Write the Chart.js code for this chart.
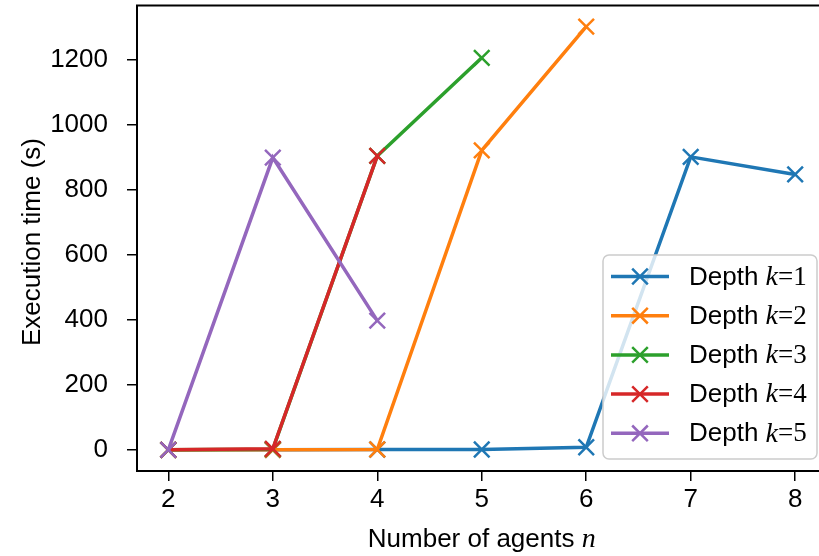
<!DOCTYPE html>
<html>
<head>
<meta charset="utf-8">
<script src="https://cdn.jsdelivr.net/npm/chart.js@4/dist/chart.umd.min.js"></script>
<style>
  html, body { margin: 0; padding: 0; background: #fff; overflow: hidden; }
  #wrap { width: 840px; height: 564px; margin-top: -8px; }
</style>
</head>
<body>
<div id="wrap"><canvas id="grafico" width="840" height="564"></canvas></div>
<script>
// dados
const nAgentes = [2, 3, 4, 5, 6, 7, 8];
const depth1 = [0, 0, 1, 1, 8, 902, 848];
const depth2 = [0, 0, 1, 922, 1303, null, null];
const depth3 = [0, 2, 905, 1207, null, null, null];
const depth4 = [0, 3, 905, null, null, null, null];
const depth5 = [0, 900, 398, null, null, null, null];
const xTicks = [2, 3, 4, 5, 6, 7, 8];
const yTicks = [0, 200, 400, 600, 800, 1000, 1200];
const rotulos = ['1', '2', '3', '4', '5'];
const cores = ['#1f77b4', '#ff7f0e', '#2ca02c', '#d62728', '#9467bd'];

const series = [depth1, depth2, depth3, depth4, depth5];
const FONTE = 26;
const SANS = '"Liberation Sans", Arial, sans-serif';
const SERIF = '"Liberation Serif", "Times New Roman", serif';
const DESLOC = 8; // canvas sobe 8px na pagina

const datasets = series.map((s, i) => ({
    label: 'Depth k=' + rotulos[i],
    data: nAgentes.map((n, j) => ({ x: n, y: s[j] })).filter(p => p.y !== null),
    borderColor: cores[i],
    backgroundColor: cores[i],
    borderWidth: 3.5,
    pointStyle: 'crossRot',
    pointRadius: 11,
    pointBorderWidth: 2.5,
    pointHoverRadius: 11,
    order: series.length - i
}));

const moldura = {
    id: 'moldura',
    afterDatasetsDraw(chart) {
        const { ctx, chartArea: a } = chart;
        ctx.save();
        ctx.strokeStyle = '#000';
        ctx.lineWidth = 2;
        ctx.strokeRect(a.left, a.top, a.right - a.left, a.bottom - a.top);
        ctx.restore();
    },
    afterDraw(chart) {
        const { ctx } = chart;
        ctx.save();
        ctx.translate(0, DESLOC);
        // titulo do eixo x
        ctx.fillStyle = '#000';
        ctx.textBaseline = 'alphabetic';
        const t1 = 'Number of agents ';
        ctx.font = FONTE + 'px ' + SANS;
        const w1 = ctx.measureText(t1).width;
        ctx.font = 'italic ' + (FONTE + 2) + 'px ' + SERIF;
        const w2 = ctx.measureText('n').width;
        const cx = chart.scales.x.getPixelForValue(5);
        let x0 = cx - (w1 + w2) / 2;
        ctx.font = FONTE + 'px ' + SANS;
        ctx.textAlign = 'left';
        ctx.fillText(t1, x0, 547);
        ctx.font = 'italic ' + (FONTE + 2) + 'px ' + SERIF;
        ctx.fillText('n', x0 + w1, 547);
        // titulo do eixo y
        ctx.save();
        ctx.translate(40, 242);
        ctx.rotate(-Math.PI / 2);
        ctx.font = FONTE + 'px ' + SANS;
        ctx.textAlign = 'center';
        ctx.fillText('Execution time (s)', 0, 0);
        ctx.restore();

        // legenda
        const L = 603, T = 255, R = 817, B = 459, rad = 6;
        ctx.beginPath();
        ctx.moveTo(L + rad, T);
        ctx.arcTo(R, T, R, B, rad);
        ctx.arcTo(R, B, L, B, rad);
        ctx.arcTo(L, B, L, T, rad);
        ctx.arcTo(L, T, R, T, rad);
        ctx.closePath();
        ctx.fillStyle = 'rgba(255,255,255,0.8)';
        ctx.fill();
        ctx.strokeStyle = '#cccccc';
        ctx.lineWidth = 1.5;
        ctx.stroke();
        rotulos.forEach((r, i) => {
            const y = 276.5 + i * 39.2;
            ctx.strokeStyle = cores[i];
            ctx.lineWidth = 3.5;
            ctx.beginPath();
            ctx.moveTo(611, y);
            ctx.lineTo(669, y);
            ctx.stroke();
            ctx.lineWidth = 2.5;
            const d = 7.8;
            ctx.beginPath();
            ctx.moveTo(640 - d, y - d); ctx.lineTo(640 + d, y + d);
            ctx.moveTo(640 - d, y + d); ctx.lineTo(640 + d, y - d);
            ctx.stroke();
            ctx.fillStyle = '#000';
            ctx.textAlign = 'left';
            ctx.textBaseline = 'middle';
            let x = 689;
            ctx.font = FONTE + 'px ' + SANS;
            ctx.fillText('Depth ', x, y + 1);
            x += ctx.measureText('Depth ').width;
            ctx.font = 'italic ' + (FONTE + 2) + 'px ' + SERIF;
            ctx.fillText('k', x, y + 1);
            x += ctx.measureText('k').width;
            ctx.font = (FONTE + 1) + 'px ' + SERIF;
            ctx.fillText('=' + r, x, y + 1);
        });
        ctx.restore();
    }
};

new Chart(document.getElementById('grafico').getContext('2d'), {
    type: 'line',
    data: { datasets: datasets },
    options: {
        responsive: false,
        animation: false,
        events: [],
        layout: { padding: { top: 5, right: 10.5, left: 0, bottom: 0 } },
        plugins: { legend: { display: false }, tooltip: { enabled: false } },
        scales: {
            x: {
                type: 'linear',
                min: 1.7,
                max: 8.3,
                afterBuildTicks: s => { s.ticks = xTicks.map(v => ({ value: v })); },
                afterFit: s => { s.height = 85; s.paddingLeft = 0; s.paddingRight = 0; },
                grid: { drawOnChartArea: false, color: '#000', tickLength: 10, lineWidth: 1.5 },
                border: { display: true, color: '#000', width: 2 },
                ticks: { color: '#000', font: { size: FONTE, family: SANS }, padding: 3, maxRotation: 0,
                         callback: v => String(v) }
            },
            y: {
                min: -65.15,
                max: 1368.15,
                afterBuildTicks: s => { s.ticks = yTicks.map(v => ({ value: v })); },
                afterFit: s => { s.width = 137; s.paddingTop = 0; s.paddingBottom = 0; },
                grid: { drawOnChartArea: false, color: '#000', tickLength: 10, lineWidth: 1.5 },
                border: { display: true, color: '#000', width: 2 },
                ticks: { color: '#000', font: { size: FONTE, family: SANS }, padding: 19,
                         callback: v => String(v) }
            }
        }
    },
    plugins: [moldura]
});
</script>
</body>
</html>
